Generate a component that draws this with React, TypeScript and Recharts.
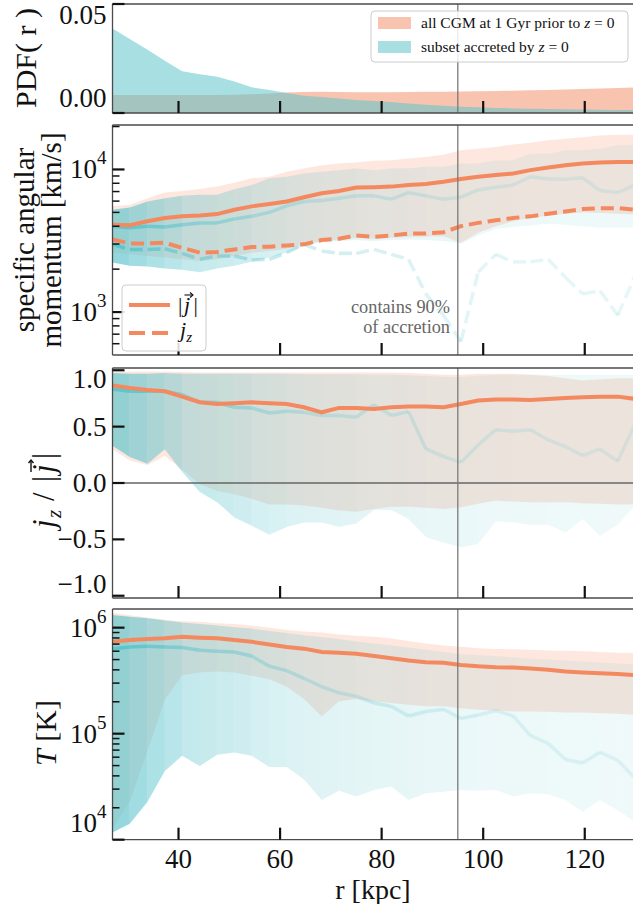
import React from 'react';
import { ComposedChart, Area, Line, XAxis, YAxis, ReferenceLine } from 'recharts';

// radial bins [kpc]
const R = [27.0, 30.4, 33.9, 37.3, 40.7, 44.2, 47.6, 51.0, 54.4, 57.9, 61.3, 64.7, 68.2, 71.6, 75.0, 78.5,
  81.9, 85.3, 88.7, 92.2, 95.6, 99.0, 102.5, 105.9, 109.3, 112.8, 116.2, 119.6, 123.0, 126.5, 129.9];

// PDF(r)
const PDF_ALL = [0.0082, 0.0082, 0.0082, 0.0082, 0.0082, 0.0082, 0.0083, 0.0084, 0.0086, 0.009, 0.0094, 0.0096,
  0.0097, 0.0096, 0.0095, 0.0095, 0.0095, 0.0096, 0.0097, 0.0098, 0.0099, 0.01, 0.0101, 0.0102, 0.0104, 0.0106,
  0.0108, 0.011, 0.0112, 0.0115, 0.0117];
const PDF_ACC = [0.0388, 0.034, 0.029, 0.024, 0.0192, 0.0178, 0.0166, 0.0145, 0.0118, 0.0105, 0.0092, 0.0079,
  0.0073, 0.0066, 0.006, 0.0055, 0.0051, 0.0044, 0.0038, 0.0033, 0.0029, 0.0026, 0.0023, 0.0021, 0.0019, 0.0018,
  0.0017, 0.0016, 0.0015, 0.0014, 0.0014];

// specific angular momentum [km/s]
const J_ALL = [4100, 4065, 4335, 4570, 4690, 4760, 4865, 5220, 5510, 5720, 5960, 6390, 6810, 7070, 7460, 7500,
  7580, 7780, 7910, 8200, 8570, 8890, 9140, 9380, 9890, 10320, 10710, 11000, 11190, 11300, 11300];
const JZ_ALL = [3230, 3030, 3030, 3060, 2825, 2610, 2640, 2750, 2860, 2875, 2935, 2985, 3200, 3265, 3445, 3370,
  3445, 3555, 3555, 3630, 4000, 4220, 4400, 4570, 4690, 4895, 5080, 5275, 5355, 5355, 5220];
const J_ACC = [4000, 3895, 4000, 3955, 4100, 4220, 4220, 4500, 4690, 5000, 5560, 5960, 6050, 6290, 6530, 6530,
  6190, 6890, 6530, 6190, 6390, 7180, 7500, 7780, 8890, 8570, 8530, 8750, 7110, 6890, 7780];
const JZ_ACC = [2985, 2750, 2750, 2780, 2580, 2345, 2475, 2475, 2320, 2345, 2610, 2985, 2680, 2580, 2580, 2750,
  2540, 2345, 1340, 948, 620, 1900, 2540, 2250, 2250, 2345, 1750, 1340, 1413, 948, 1800];
const J_ALL_HI = [5510, 5650, 6290, 6890, 7070, 7300, 7580, 8080, 8660, 8890, 9640, 10160, 10710, 11000, 11190,
  11490, 11610, 11920, 12240, 12700, 13620, 13990, 14360, 14990, 15400, 16000, 16420, 16850, 17300, 17500, 17500];
const J_ALL_LO = [2610, 2540, 2475, 2410, 2345, 2285, 2345, 2475, 2610, 2680, 2780, 2985, 3150, 3230, 3320, 3265,
  3320, 3370, 3370, 3405, 3060, 3595, 4000, 4335, 4570, 4745, 4895, 5000, 4945, 4895, 4820];
const J_ACC_HI = [5220, 5420, 5960, 6290, 6530, 6640, 6640, 7260, 7780, 8660, 8890, 9380, 9640, 9890, 10160, 9890,
  10160, 10160, 10440, 10440, 11000, 11000, 11610, 11610, 12910, 12910, 13620, 13620, 13990, 14760, 14760];
const J_ACC_LO = [2225, 2110, 2085, 2020, 1980, 1900, 2020, 2110, 2250, 2410, 2610, 2905, 3100, 3150, 3200, 3150,
  3200, 3230, 3200, 3150, 3030, 3445, 3830, 3955, 4040, 4170, 4100, 4000, 3895, 3895, 3895];

// jz / |j|
const COS_ALL = [0.864, 0.843, 0.825, 0.814, 0.766, 0.716, 0.701, 0.707, 0.716, 0.707, 0.701, 0.672, 0.627, 0.666,
  0.666, 0.657, 0.672, 0.678, 0.678, 0.672, 0.701, 0.731, 0.74, 0.74, 0.737, 0.746, 0.754, 0.76, 0.766, 0.766, 0.746];
const COS_ACC = [0.834, 0.814, 0.814, 0.814, 0.784, 0.716, 0.716, 0.672, 0.666, 0.621, 0.636, 0.627, 0.598, 0.598,
  0.583, 0.695, 0.598, 0.633, 0.302, 0.234, 0.183, 0.337, 0.473, 0.459, 0.473, 0.382, 0.322, 0.243, 0.302, 0.192, 0.524];
const COS_ALL_HI = [0.99, 0.99, 0.99, 0.99, 0.985, 0.98, 0.98, 0.98, 0.98, 0.98, 0.98, 0.98, 0.98, 0.98, 0.98, 0.98,
  0.98, 0.975, 0.97, 0.96, 0.96, 0.97, 0.97, 0.97, 0.96, 0.95, 0.93, 0.91, 0.92, 0.93, 0.93];
const COS_ALL_LO = [0.3, 0.2, 0.16, 0.24, 0.12, -0.01, -0.07, -0.1, -0.14, -0.19, -0.19, -0.2, -0.22, -0.245, -0.255,
  -0.23, -0.21, -0.21, -0.22, -0.23, -0.215, -0.185, -0.155, -0.165, -0.17, -0.17, -0.17, -0.18, -0.185, -0.19, -0.19];
const COS_ACC_HI = [0.975, 0.97, 0.97, 0.975, 0.97, 0.97, 0.97, 0.97, 0.97, 0.97, 0.97, 0.965, 0.965, 0.965, 0.965,
  0.96, 0.96, 0.955, 0.95, 0.94, 0.94, 0.95, 0.96, 0.96, 0.96, 0.96, 0.96, 0.96, 0.96, 0.96, 0.96];
const COS_ACC_LO = [0.33, 0.23, 0.17, 0.3, 0.1, -0.08, -0.17, -0.305, -0.38, -0.46, -0.39, -0.35, -0.35, -0.39, -0.36,
  -0.24, -0.24, -0.32, -0.48, -0.53, -0.57, -0.54, -0.34, -0.35, -0.37, -0.37, -0.44, -0.32, -0.47, -0.37, -0.2];

// temperature [K]
const T_ALL = [7.35e5, 7.64e5, 7.8e5, 7.93e5, 8.22e5, 8.04e5, 7.93e5, 7.64e5, 7.35e5, 6.93e5, 6.58e5, 6.34e5, 5.89e5,
  5.81e5, 5.68e5, 5.4e5, 5.15e5, 4.9e5, 4.72e5, 4.66e5, 4.45e5, 4.32e5, 4.23e5, 4.2e5, 4.13e5, 4.01e5, 3.86e5,
  3.78e5, 3.72e5, 3.65e5, 3.56e5];
const T_ACC = [6.34e5, 6.58e5, 6.68e5, 6.58e5, 6.49e5, 6.11e5, 5.98e5, 5.89e5, 5.4e5, 4.32e5, 3.93e5, 3.33e5, 2.77e5,
  2.43e5, 2.25e5, 1.95e5, 1.81e5, 1.47e5, 1.62e5, 1.7e5, 1.39e5, 1.5e5, 1.65e5, 1.47e5, 9.6e4, 8.1e4, 5.7e4,
  5.3e4, 6.7e4, 5.6e4, 3.8e4];
const T_ALL_HI = [1.38e6, 1.31e6, 1.25e6, 1.19e6, 1.15e6, 1.14e6, 1.1e6, 1.08e6, 1.05e6, 1.0e6, 9.5e5, 9.2e5, 9.0e5,
  8.6e5, 8.4e5, 8.2e5, 7.9e5, 7.5e5, 7.1e5, 6.8e5, 6.6e5, 6.4e5, 6.3e5, 6.25e5, 6.2e5, 6.1e5, 6.07e5, 6.0e5,
  5.9e5, 5.8e5, 5.8e5];
const T_ALL_LO = [1.26e4, 2.28e4, 6.9e4, 2.09e5, 3.56e5, 3.78e5, 3.85e5, 3.78e5, 3.52e5, 3.26e5, 2.77e5, 2.12e5,
  1.45e5, 2.02e5, 2.12e5, 2.02e5, 1.95e5, 1.87e5, 1.81e5, 1.81e5, 1.74e5, 1.68e5, 1.65e5, 1.62e5, 1.62e5, 1.61e5,
  1.58e5, 1.58e5, 1.56e5, 1.54e5, 1.5e5];
const T_ACC_HI = [1.32e6, 1.27e6, 1.23e6, 1.17e6, 1.12e6, 1.08e6, 1.05e6, 1.01e6, 9.8e5, 9.3e5, 8.9e5, 8.5e5, 8.1e5,
  7.8e5, 7.4e5, 7.1e5, 6.8e5, 6.5e5, 6.2e5, 5.9e5, 5.6e5, 5.5e5, 5.4e5, 5.25e5, 5.1e5, 5.0e5, 4.9e5, 4.8e5,
  4.7e5, 4.6e5, 4.5e5];
const T_ACC_LO = [1.17e4, 1.41e4, 2.28e4, 4.44e4, 6.18e4, 4.95e4, 6.32e4, 6.65e4, 6.18e4, 4.84e4, 4.84e4, 3.69e4,
  2.37e4, 2.89e4, 2.55e4, 2.95e4, 3.18e4, 2.37e4, 2.74e4, 2.84e4, 2.95e4, 2.89e4, 2.95e4, 2.55e4, 2.74e4, 2.69e4,
  2.37e4, 1.83e4, 2.37e4, 1.9e4, 1.47e4];

// axes
const X_TICKS = [40, 60, 80, 100, 120];
const R_90 = 95;
const PDF_TICKS = [0, 0.05];
const J_MAJOR = [1000, 10000];
const J_MINOR = [600, 700, 800, 900, 2000, 3000, 4000, 5000, 6000, 7000, 8000, 9000, 20000];
const COS_TICKS = [-1, -0.5, 0, 0.5, 1];
const T_MAJOR = [1e4, 1e5, 1e6];
const T_MINOR = [2e4, 3e4, 4e4, 5e4, 6e4, 7e4, 8e4, 9e4, 2e5, 3e5, 4e5, 5e5, 6e5, 7e5, 8e5, 9e5];

const SERIF = "'Liberation Serif', 'Times New Roman', Times, serif";
const ORANGE = '#f4895f';
const CYAN = '#5ec4cc';
const SPINE = '#4a4a4a';
const INK = '#111';
const W = 633;
const LEFT = 112.5;
const X_DOMAIN: [number, number] = [27, 129.5];
const FS_TICK = 27;

const rows = R.map((r, i) => ({
  r,
  pdfAll: PDF_ALL[i],
  pdfAcc: PDF_ACC[i],
  jAll: J_ALL[i],
  jzAll: JZ_ALL[i],
  jAcc: J_ACC[i],
  jzAcc: JZ_ACC[i],
  jBandAll: [J_ALL_LO[i], J_ALL_HI[i]],
  jBandAcc: [J_ACC_LO[i], J_ACC_HI[i]],
  cosAll: COS_ALL[i],
  cosAcc: COS_ACC[i],
  cosBandAll: [COS_ALL_LO[i], COS_ALL_HI[i]],
  cosBandAcc: [COS_ACC_LO[i], COS_ACC_HI[i]],
  tAll: T_ALL[i],
  tAcc: T_ACC[i],
  tBandAll: [T_ALL_LO[i], T_ALL_HI[i]],
  tBandAcc: [T_ACC_LO[i], T_ACC_HI[i]],
}));

// the accreted subset is drawn bin by bin, fading with its PDF
const segments = rows.slice(0, -1).map((row, k) => [row, rows[k + 1]]);
const bandAlpha = (k: number) => 0.08 + 15 * PDF_ACC[k];
const lineAlpha = (k: number) => Math.min(1, 0.12 + 22 * PDF_ACC[k]);

const fadedBand = (key: string) =>
  segments.map((seg, k) => (
    <Area key={`${key}-${k}`} data={seg} dataKey={key} type="linear" stroke="none" fill={CYAN}
      fillOpacity={bandAlpha(k)} activeDot={false} isAnimationActive={false} />
  ));

const fadedLine = (key: string, dashed = false) =>
  segments.map((seg, k) => (
    <Line key={`${key}-${k}`} data={seg} dataKey={key} type="linear" stroke={CYAN} strokeOpacity={lineAlpha(k)}
      strokeWidth={3.5} strokeDasharray={dashed ? '13 6' : undefined} dot={false} activeDot={false}
      isAnimationActive={false} />
  ));

const allBand = (key: string) => (
  <Area key={`${key}-all`} dataKey={key} type="linear" stroke="none" fill={ORANGE} fillOpacity={0.2}
    activeDot={false} isAnimationActive={false} />
);

const allLine = (key: string, dashed = false) => (
  <Line key={`${key}-all`} dataKey={key} type="linear" stroke={ORANGE} strokeWidth={4}
    strokeDasharray={dashed ? '13 6' : undefined} dot={false} activeDot={false} isAnimationActive={false} />
);

const pow10 = (v: number) => (
  <>
    10<tspan dy={-12} fontSize={19}>{Math.round(Math.log10(v))}</tspan>
  </>
);

const makeXTick = (showLabel: boolean) => (props: any) => {
  const { x, y, payload } = props;
  return (
    <g>
      <line x1={x} x2={x} y1={y} y2={y - 12} stroke={INK} strokeWidth={2.2} />
      {showLabel && (
        <text x={x} y={y + 28} textAnchor="middle" fontFamily={SERIF} fontSize={FS_TICK} fill={INK}>
          {payload.value}
        </text>
      )}
    </g>
  );
};

const makeYTick = (majors: number[], fmt: (v: number) => React.ReactNode, nudge: (v: number) => number) =>
  (props: any) => {
    const { x, y, payload } = props;
    const v = payload.value;
    const major = majors.includes(v);
    return (
      <g>
        <line x1={x} x2={x + (major ? 12 : 7)} y1={y} y2={y} stroke={INK} strokeWidth={major ? 2.2 : 1.5} />
        {major && (
          <text x={x - 6} y={y + nudge(v)} textAnchor="end" dominantBaseline="central" fontFamily={SERIF}
            fontSize={FS_TICK} fill={INK}>
            {fmt(v)}
          </text>
        )}
      </g>
    );
  };

type PanelProps = {
  top: number;
  height: number;
  domain: [number, number];
  log?: boolean;
  ticks: number[];
  majors: number[];
  fmt: (v: number) => React.ReactNode;
  nudge: (v: number) => number;
  xLabels?: boolean;
  zeroLine?: boolean;
  items: React.ReactNode[];
};

function Panel({ top, height, domain, log, ticks, majors, fmt, nudge, xLabels = false, zeroLine, items }: PanelProps) {
  const mTop = 10;
  const axisH = 44;
  return (
    <div style={{ position: 'absolute', left: 0, top: top - mTop }}>
      <ComposedChart width={W} height={height + mTop + axisH} data={rows}
        margin={{ top: mTop, right: 0, bottom: 0, left: 0 }}>
        {items}
        {zeroLine && <ReferenceLine y={0} stroke="#666" strokeWidth={1.3} />}
        <ReferenceLine x={R_90} stroke="#7a7a7a" strokeWidth={1.3} />
        <ReferenceLine y={domain[1]} stroke={SPINE} strokeWidth={1.3} />
        <XAxis type="number" dataKey="r" domain={X_DOMAIN} allowDataOverflow ticks={X_TICKS} interval={0}
          height={axisH} tickSize={0} tickMargin={0} tickLine={false} tick={makeXTick(xLabels)}
          axisLine={{ stroke: SPINE, strokeWidth: 1.3 }} />
        <YAxis type="number" scale={log ? 'log' : 'linear'} domain={domain} allowDataOverflow ticks={ticks}
          interval={0} width={LEFT} tickSize={0} tickMargin={0} tickLine={false}
          tick={makeYTick(majors, fmt, nudge)} axisLine={{ stroke: SPINE, strokeWidth: 1.3 }} />
      </ComposedChart>
    </div>
  );
}

// small vector arrow drawn over a glyph
const VecArrow = ({ x1, x2, y, w = 1.2 }: { x1: number; x2: number; y: number; w?: number }) => (
  <g stroke={INK} strokeWidth={w} fill="none">
    <line x1={x1} x2={x2} y1={y} y2={y} />
    <polyline points={`${x2 - 3},${y - 2.5} ${x2},${y} ${x2 - 3},${y + 2.5}`} />
  </g>
);

const label = { fontFamily: SERIF, fill: INK, textAnchor: 'middle' as const, dominantBaseline: 'central' as const };

export default function App() {
  return (
    <div style={{ position: 'absolute', left: 0, top: 0, width: W, height: 904, background: '#fff', overflow: 'hidden' }}>
      <Panel top={4} height={109} domain={[0, 0.05]} ticks={PDF_TICKS} majors={PDF_TICKS}
        fmt={(v) => v.toFixed(2)} nudge={(v) => (v === 0 ? -15 : 11)}
        items={[
          <Area key="pdf-all" dataKey="pdfAll" type="linear" stroke="none" fill={ORANGE} fillOpacity={0.5}
            activeDot={false} isAnimationActive={false} />,
          <Area key="pdf-acc" dataKey="pdfAcc" type="linear" stroke="none" fill={CYAN} fillOpacity={0.55}
            activeDot={false} isAnimationActive={false} />,
        ]} />
      <Panel top={125} height={230} domain={[500, 20500]} log ticks={[...J_MINOR, ...J_MAJOR]} majors={J_MAJOR}
        fmt={pow10} nudge={() => 0}
        items={[
          allBand('jBandAll'),
          ...fadedBand('jBandAcc'),
          ...fadedLine('jAcc'),
          ...fadedLine('jzAcc', true),
          allLine('jAll'),
          allLine('jzAll', true),
        ]} />
      <Panel top={367.7} height={230} domain={[-1.02, 1.02]} ticks={COS_TICKS} majors={COS_TICKS}
        fmt={(v) => v.toFixed(1).replace('-', '\u2212')} nudge={(v) => (v === 1 ? 9 : v === -1 ? -12 : 0)} zeroLine
        items={[
          allBand('cosBandAll'),
          ...fadedBand('cosBandAcc'),
          ...fadedLine('cosAcc'),
          allLine('cosAll'),
        ]} />
      <Panel top={609.3} height={230.7} domain={[1e4, 1.5e6]} log ticks={[...T_MINOR, ...T_MAJOR]} majors={T_MAJOR}
        fmt={pow10} nudge={(v) => (v === 1e4 ? -17 : 0)} xLabels
        items={[
          allBand('tBandAll'),
          ...fadedBand('tBandAcc'),
          ...fadedLine('tAcc'),
          allLine('tAll'),
        ]} />

      <svg width={W} height={904} style={{ position: 'absolute', left: 0, top: 0, pointerEvents: 'none' }}>
        {/* panel 1 legend */}
        <rect x={371} y={11} width={257} height={51} rx={4} fill="#fff" fillOpacity={0.85} stroke="#cccccc" />
        <rect x={378} y={17} width={33} height={12} fill={ORANGE} fillOpacity={0.5} />
        <rect x={378} y={41} width={33} height={12} fill={CYAN} fillOpacity={0.55} />
        <text x={421} y={28} fontFamily={SERIF} fontSize={15.5} fill={INK}>
          all CGM at 1 Gyr prior to <tspan fontStyle="italic">z</tspan> = 0
        </text>
        <text x={421} y={52} fontFamily={SERIF} fontSize={15.5} fill={INK}>
          subset accreted by <tspan fontStyle="italic">z</tspan> = 0
        </text>

        {/* panel 2 legend */}
        <rect x={122} y={285} width={84} height={66} rx={4} fill="#fff" fillOpacity={0.85} stroke="#cccccc" />
        <line x1={129} x2={170} y1={305} y2={305} stroke={ORANGE} strokeWidth={4} />
        <line x1={129} x2={170} y1={333} y2={333} stroke={ORANGE} strokeWidth={4} strokeDasharray="16 7" />
        <text x={178} y={312} fontFamily={SERIF} fontSize={22} fill={INK}>|</text>
        <text x={184} y={312} fontFamily={SERIF} fontSize={22} fontStyle="italic" fill={INK}>j</text>
        <VecArrow x1={184.5} x2={193} y={295} w={1.1} />
        <text x={193.5} y={312} fontFamily={SERIF} fontSize={22} fill={INK}>|</text>
        <text x={180} y={337} fontFamily={SERIF} fontSize={22} fill={INK}>
          <tspan fontStyle="italic">j</tspan>
          <tspan fontStyle="italic" fontSize={15} dy={5}>z</tspan>
        </text>
        <text x={450} y={313} textAnchor="end" fontFamily={SERIF} fontSize={18.3} fill="#666">contains 90%</text>
        <text x={450} y={333} textAnchor="end" fontFamily={SERIF} fontSize={18.3} fill="#666">of accretion</text>

        {/* axis titles */}
        <text {...label} x={25} y={58} fontSize={30} transform="rotate(-90 25 58)">PDF( r )</text>
        <text {...label} x={24} y={240} fontSize={29} transform="rotate(-90 24 240)">specific angular</text>
        <text {...label} x={51} y={240} fontSize={29} transform="rotate(-90 51 240)">momentum [km/s]</text>
        <g transform="translate(45 484) rotate(-90)" fontFamily={SERIF} fill={INK}>
          <text x={-44} y={9} fontSize={31} fontStyle="italic">j</text>
          <text x={-34} y={16} fontSize={21} fontStyle="italic">z</text>
          <text x={-17} y={9} fontSize={31}>/</text>
          <text x={2} y={9} fontSize={31}>|</text>
          <text x={11} y={9} fontSize={31} fontStyle="italic">j</text>
          <VecArrow x1={12} x2={24} y={-14} w={1.4} />
          <text x={25} y={9} fontSize={31}>|</text>
        </g>
        <text {...label} x={45} y={733} fontSize={30} transform="rotate(-90 45 733)">
          <tspan fontStyle="italic">T</tspan> [K]
        </text>
        <text {...label} x={373} y={889} fontSize={28}>r [kpc]</text>
      </svg>
    </div>
  );
}
